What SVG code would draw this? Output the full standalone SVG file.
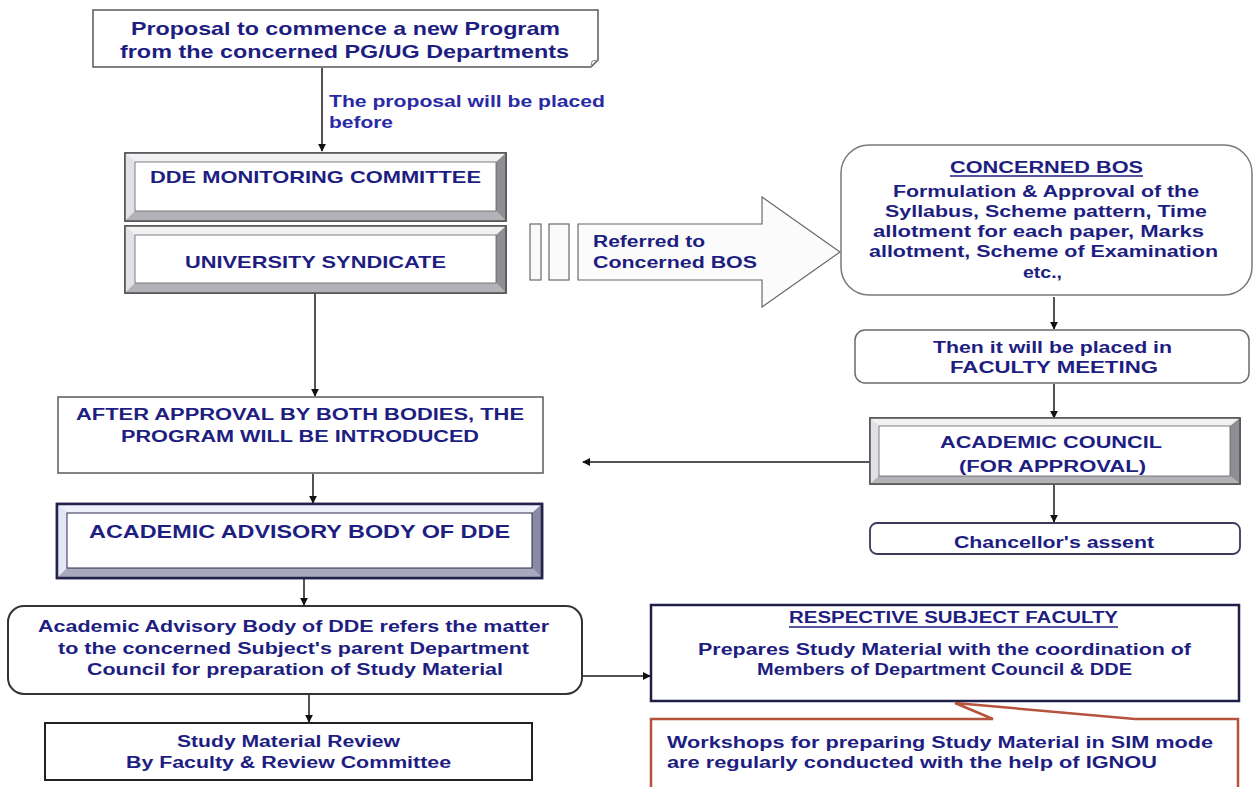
<svg xmlns="http://www.w3.org/2000/svg" width="1255" height="787" viewBox="0 0 1255 787">
<defs>
<style>
.t{font-family:"Liberation Sans",Arial,sans-serif;font-weight:bold;font-size:16px;fill:#1e1e82}
.t18{font-size:18px}
.lbl{fill:#2a2aa6}
.box{fill:#ffffff;stroke:#5a5a5a;stroke-width:1.5}
.con{stroke:#1a1a1a;stroke-width:1.5;fill:none}
.fl{fill:#f1f1f3}.fL{fill:#e2e2e6}.fr{fill:#8f8f93}.fb{fill:#b3b3b7}
.in{fill:#ffffff;stroke:#606060;stroke-width:0.8}
.ul{stroke:#1e1e82;stroke-width:1.3}
</style>
<marker id="ah" viewBox="0 0 10 10" refX="9" refY="5" markerWidth="8" markerHeight="8" markerUnits="userSpaceOnUse" orient="auto">
<path d="M0,0 L10,5 L0,10 Z" fill="#111"/>
</marker>
</defs>
<rect width="1255" height="787" fill="#ffffff"/>

<g id="connectors">
<line class="con" x1="322" y1="68" x2="322" y2="151" marker-end="url(#ah)"/>
<line class="con" x1="315" y1="293" x2="315" y2="396" marker-end="url(#ah)"/>
<line class="con" x1="313" y1="474" x2="313" y2="503" marker-end="url(#ah)"/>
<line class="con" x1="304" y1="578" x2="304" y2="605" marker-end="url(#ah)"/>
<line class="con" x1="309" y1="694" x2="309" y2="722" marker-end="url(#ah)"/>
<line class="con" x1="1054" y1="297" x2="1054" y2="329" marker-end="url(#ah)"/>
<line class="con" x1="1054" y1="384" x2="1054" y2="418" marker-end="url(#ah)"/>
<line class="con" x1="1054" y1="485" x2="1054" y2="522" marker-end="url(#ah)"/>
<line class="con" x1="869" y1="462" x2="583" y2="462" marker-end="url(#ah)"/>
<line class="con" x1="582" y1="676" x2="650" y2="676" marker-end="url(#ah)"/>
<text class="t lbl" x="329" y="107" textLength="276" lengthAdjust="spacingAndGlyphs">The proposal will be placed</text>
<text class="t lbl" x="329" y="128" textLength="64" lengthAdjust="spacingAndGlyphs">before</text>
</g>

<g id="proposal">
<path d="M93,10 H598 V60 L591,67 H93 Z" fill="#ffffff" stroke="#5a5a5a" stroke-width="1.5"/>
<path d="M591,67 L592,61 L598,60" fill="none" stroke="#8a8a8a" stroke-width="1"/>
<text class="t" x="131" y="35" style="font-size:19px" textLength="429" lengthAdjust="spacingAndGlyphs">Proposal to commence a new Program</text>
<text class="t" x="120" y="58" style="font-size:19px" textLength="449" lengthAdjust="spacingAndGlyphs">from the concerned PG/UG Departments</text>
</g>

<g id="dde-monitoring">
<rect x="125" y="153" width="381" height="68" fill="#ddd" stroke="#505050" stroke-width="1.5"/>
<polygon class="fl" points="125,153 506,153 496,162 135,162"/>
<polygon class="fL" points="125,153 135,162 135,211 125,221"/>
<polygon class="fr" points="506,153 506,221 496,211 496,162"/>
<polygon class="fb" points="125,221 135,211 496,211 506,221"/>
<rect class="in" x="135" y="162" width="361" height="49"/>
<rect x="125" y="153" width="381" height="68" fill="none" stroke="#505050" stroke-width="1.5"/>
<text class="t" x="150" y="183" style="font-size:17px" textLength="331" lengthAdjust="spacingAndGlyphs">DDE MONITORING COMMITTEE</text>
</g>

<g id="university-syndicate">
<rect x="125" y="226" width="381" height="67" fill="#ddd" stroke="#505050" stroke-width="1.5"/>
<polygon class="fl" points="125,226 506,226 496,235 135,235"/>
<polygon class="fL" points="125,226 135,235 135,283 125,293"/>
<polygon class="fr" points="506,226 506,293 496,283 496,235"/>
<polygon class="fb" points="125,293 135,283 496,283 506,293"/>
<rect class="in" x="135" y="235" width="361" height="48"/>
<rect x="125" y="226" width="381" height="67" fill="none" stroke="#505050" stroke-width="1.5"/>
<text class="t" x="185" y="268" style="font-size:17px" textLength="261" lengthAdjust="spacingAndGlyphs">UNIVERSITY SYNDICATE</text>
</g>

<g id="referred-arrow">
<rect x="530" y="224" width="11" height="56" fill="#fafafa" stroke="#6a6a6a" stroke-width="1.2"/>
<rect x="549" y="224" width="20" height="56" fill="#fafafa" stroke="#6a6a6a" stroke-width="1.2"/>
<polygon points="578,224 762,224 762,197 840,252 762,307 762,280 578,280" fill="#fbfbfb" stroke="#6a6a6a" stroke-width="1.2"/>
<text class="t" x="593" y="247" textLength="112" lengthAdjust="spacingAndGlyphs">Referred to</text>
<text class="t" x="593" y="268" textLength="164" lengthAdjust="spacingAndGlyphs">Concerned BOS</text>
</g>

<g id="concerned-bos">
<rect x="841" y="145" width="411" height="150" rx="28" fill="#ffffff" stroke="#7a7a7a" stroke-width="1.5"/>
<text class="t" x="950" y="173" textLength="193" lengthAdjust="spacingAndGlyphs">CONCERNED BOS</text>
<line class="ul" x1="950" y1="176" x2="1143" y2="176"/>
<text class="t" x="893" y="197" textLength="306" lengthAdjust="spacingAndGlyphs">Formulation &amp; Approval of the</text>
<text class="t" x="885" y="217" textLength="322" lengthAdjust="spacingAndGlyphs">Syllabus, Scheme pattern, Time</text>
<text class="t" x="873" y="237" textLength="331" lengthAdjust="spacingAndGlyphs">allotment for each paper, Marks</text>
<text class="t" x="869" y="257" textLength="349" lengthAdjust="spacingAndGlyphs">allotment, Scheme of Examination</text>
<text class="t" x="1023" y="278" textLength="39" lengthAdjust="spacingAndGlyphs">etc.,</text>
</g>

<g id="faculty-meeting">
<rect x="855" y="330" width="394" height="53" rx="10" fill="#ffffff" stroke="#6a6a6a" stroke-width="1.5"/>
<text class="t" x="933" y="353" textLength="239" lengthAdjust="spacingAndGlyphs">Then it will be placed in</text>
<text class="t" x="950" y="373" textLength="208" lengthAdjust="spacingAndGlyphs">FACULTY MEETING</text>
</g>

<g id="academic-council">
<rect x="870" y="418" width="370" height="66" fill="#ddd" stroke="#505050" stroke-width="1.5"/>
<polygon class="fl" points="870,418 1240,418 1230,426 879,426"/>
<polygon class="fL" points="870,418 879,426 879,476 870,484"/>
<polygon class="fr" points="1240,418 1240,484 1230,476 1230,426"/>
<polygon class="fb" points="870,484 879,476 1230,476 1240,484"/>
<rect class="in" x="879" y="426" width="351" height="50"/>
<rect x="870" y="418" width="370" height="66" fill="none" stroke="#505050" stroke-width="1.5"/>
<text class="t" x="940" y="448" textLength="222" lengthAdjust="spacingAndGlyphs">ACADEMIC COUNCIL</text>
<text class="t" x="959" y="472" textLength="187" lengthAdjust="spacingAndGlyphs">(FOR APPROVAL)</text>
</g>

<g id="chancellor">
<rect x="870" y="523" width="370" height="31" rx="7" fill="#ffffff" stroke="#3a3a5a" stroke-width="1.8"/>
<text class="t" x="954" y="548" textLength="200" lengthAdjust="spacingAndGlyphs">Chancellor's assent</text>
</g>

<g id="after-approval">
<rect class="box" x="58" y="397" width="485" height="76"/>
<text class="t" x="76" y="420" textLength="448" lengthAdjust="spacingAndGlyphs">AFTER APPROVAL BY BOTH BODIES, THE</text>
<text class="t" x="121" y="442" textLength="358" lengthAdjust="spacingAndGlyphs">PROGRAM WILL BE INTRODUCED</text>
</g>

<g id="academic-advisory">
<rect x="57" y="504" width="485" height="74" fill="#ccc" stroke="#23234d" stroke-width="2.5"/>
<polygon fill="#eef0fa" points="57,504 542,504 532,513 67,513"/>
<polygon fill="#e4e6f6" points="57,504 67,513 67,568 57,578"/>
<polygon fill="#8a8aa4" points="542,504 542,578 532,568 532,513"/>
<polygon fill="#a9a9bd" points="57,578 67,568 532,568 542,578"/>
<rect x="67" y="513" width="465" height="55" fill="#ffffff" stroke="#2a2a50" stroke-width="1"/>
<rect x="57" y="504" width="485" height="74" fill="none" stroke="#23234d" stroke-width="2.5"/>
<text class="t t18" x="89" y="538" textLength="421" lengthAdjust="spacingAndGlyphs">ACADEMIC ADVISORY BODY OF DDE</text>
</g>

<g id="advisory-refers">
<rect x="8" y="606" width="574" height="88" rx="16" fill="#ffffff" stroke="#333" stroke-width="2"/>
<text class="t" x="38" y="632" textLength="511" lengthAdjust="spacingAndGlyphs">Academic Advisory Body of DDE refers the matter</text>
<text class="t" x="58" y="654" textLength="471" lengthAdjust="spacingAndGlyphs">to the concerned Subject's parent Department</text>
<text class="t" x="87" y="675" textLength="416" lengthAdjust="spacingAndGlyphs">Council for preparation of Study Material</text>
</g>

<g id="study-review">
<rect x="45" y="723" width="487" height="57" fill="#ffffff" stroke="#222" stroke-width="2"/>
<text class="t" x="177" y="747" textLength="223" lengthAdjust="spacingAndGlyphs">Study Material Review</text>
<text class="t" x="126" y="768" textLength="325" lengthAdjust="spacingAndGlyphs">By Faculty &amp; Review Committee</text>
</g>

<g id="respective-faculty">
<rect x="651" y="605" width="588" height="96" fill="#ffffff" stroke="#1f1f4a" stroke-width="2.5"/>
<text class="t" x="789" y="623" textLength="329" lengthAdjust="spacingAndGlyphs">RESPECTIVE SUBJECT FACULTY</text>
<line class="ul" x1="789" y1="627" x2="1118" y2="627"/>
<text class="t" x="698" y="655" textLength="493" lengthAdjust="spacingAndGlyphs">Prepares Study Material with the coordination of</text>
<text class="t" x="757" y="675" textLength="375" lengthAdjust="spacingAndGlyphs">Members of Department Council &amp; DDE</text>
</g>

<g id="workshops-callout">
<path d="M651,719 H993 L955,703 L1135,719 H1238 V792 H651 Z" fill="#ffffff" stroke="#b5533c" stroke-width="2.5"/>
<text class="t" x="667" y="748" textLength="546" lengthAdjust="spacingAndGlyphs">Workshops for preparing Study Material in SIM mode</text>
<text class="t" x="667" y="768" textLength="490" lengthAdjust="spacingAndGlyphs">are regularly conducted with the help of IGNOU</text>
</g>
</svg>
